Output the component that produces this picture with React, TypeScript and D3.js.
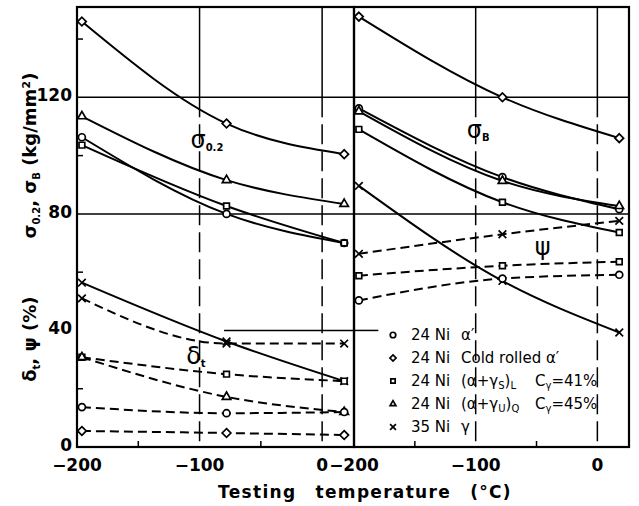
import React, { useEffect, useRef } from "react";
import * as d3 from "d3";

// testing temperatures (°C): liquid N2, dry ice, room temp
const temps = [-196, -78, 18];
const xTicks = [-200, -100, 0];
const xMinor = [-150, -50];
const yTicks = [0, 40, 80, 120];
const yMinor = [20, 60, 100, 140];

// left panel: 0.2% proof stress (kg/mm2, solid)
const proofAlpha = [106.3, 80, 70];
const proofCold = [146, 111, 100.5];
const proofSL = [103.6, 82.7, 70];
const proofUQ = [113.5, 91.6, 83.4];
const proofGamma = [56.4, 36.2, 22.6];

// left panel: elongation delta_t (%, dashed)
const elongAlpha = [13.7, 11.6, 12];
const elongCold = [5.5, 4.8, 4.1];
const elongSL = [30.8, 25, 22.6];
const elongUQ = [30.8, 17.2, 12];
const elongGamma = [51, 35.5, 35.5];

// right panel: tensile strength sigma_B (kg/mm2, solid)
const tensAlpha = [116.2, 92.6, 81.6];
const tensCold = [147.7, 120, 106];
const tensSL = [109, 84, 73.6];
const tensUQ = [115.2, 91.3, 82.7];
const tensGamma = [89.6, 57, 39.3];

// right panel: reduction of area psi (%, dashed)
const raAlpha = [50.3, 57.8, 59.1];
const raSL = [58.8, 62.2, 63.6];
const raGamma = [66.3, 73, 77.6];

const legendLabels = ["α′", "Cold rolled α′", "SL", "UQ", "γ"];

type Mark = "circle" | "diamond" | "square" | "triangle" | "times";

const leftSeries: [number[], Mark, boolean][] = [
  [proofCold, "diamond", false],
  [proofUQ, "triangle", false],
  [proofAlpha, "circle", false],
  [proofSL, "square", false],
  [proofGamma, "times", false],
  [elongGamma, "times", true],
  [elongSL, "square", true],
  [elongUQ, "triangle", true],
  [elongAlpha, "circle", true],
  [elongCold, "diamond", true],
];

const rightSeries: [number[], Mark, boolean][] = [
  [tensCold, "diamond", false],
  [tensAlpha, "circle", false],
  [tensUQ, "triangle", false],
  [tensSL, "square", false],
  [tensGamma, "times", false],
  [raGamma, "times", true],
  [raSL, "square", true],
  [raAlpha, "circle", true],
];

const symbolOf: Record<Mark, [d3.SymbolType, number]> = {
  circle: [d3.symbolCircle, 38],
  diamond: [d3.symbolDiamond2, 48],
  square: [d3.symbolSquare2, 42],
  triangle: [d3.symbolTriangle2, 52],
  times: [d3.symbolTimes, 40],
};

const FONT = "DejaVu Sans, sans-serif";

function App() {
  const ref = useRef<SVGSVGElement>(null);

  useEffect(() => {
    const svg = d3.select(ref.current);
    svg.selectAll("*").remove();

    const y = d3.scaleLinear().domain([0, 151]).range([447, 7]);
    const panels = [
      { x: d3.scaleLinear().domain([-200, 26]).range([77, 354]), series: leftSeries, g40: [-80, 26] },
      { x: d3.scaleLinear().domain([-200, 26]).range([354, 629]), series: rightSeries, g40: [-200, -180] },
    ];

    panels.forEach((p, pi) => {
      const g = svg.append("g");
      const [x0, x1] = p.x.range();

      // grid
      g.selectAll(".hg")
        .data([120, 80])
        .join("line")
        .attr("x1", x0).attr("x2", x1)
        .attr("y1", (v) => y(v)).attr("y2", (v) => y(v))
        .attr("stroke", "#000").attr("stroke-width", 1.5);
      g.append("line")
        .attr("x1", p.x(p.g40[0])).attr("x2", p.x(p.g40[1]))
        .attr("y1", y(40)).attr("y2", y(40))
        .attr("stroke", "#000").attr("stroke-width", 1.5);
      // vertical grid: solid above 120, long dashes below
      g.selectAll(".vg")
        .data([-100, 0])
        .join("line")
        .attr("x1", (v) => p.x(v)).attr("x2", (v) => p.x(v))
        .attr("y1", y(151)).attr("y2", y(120))
        .attr("stroke", "#000").attr("stroke-width", 1.5);
      g.selectAll(".vd")
        .data([-100, 0])
        .join("line")
        .attr("x1", (v) => p.x(v)).attr("x2", (v) => p.x(v))
        .attr("y1", y(120)).attr("y2", y(0))
        .attr("stroke", "#000").attr("stroke-width", 1.5)
        .attr("stroke-dasharray", "20,7");

      // minor ticks
      g.selectAll(".mt")
        .data(xMinor)
        .join("line")
        .attr("x1", (v) => p.x(v)).attr("x2", (v) => p.x(v))
        .attr("y1", y(0)).attr("y2", y(0) - 6)
        .attr("stroke", "#000").attr("stroke-width", 1.5);
      if (pi === 0) {
        g.selectAll(".ym")
          .data(yMinor)
          .join("line")
          .attr("x1", x0).attr("x2", x0 + 6)
          .attr("y1", (v) => y(v)).attr("y2", (v) => y(v))
          .attr("stroke", "#000").attr("stroke-width", 1.5);
      }

      const line = d3
        .line<number>()
        .x((v, i) => p.x(temps[i]))
        .y((v) => y(v))
        .curve(d3.curveMonotoneX);

      p.series.forEach(([vals, mark, dashed]) => {
        g.append("path")
          .attr("d", line(vals))
          .attr("fill", "none")
          .attr("stroke", "#000")
          .attr("stroke-width", 2)
          .attr("stroke-dasharray", dashed ? "9,5" : null);
      });
      p.series.forEach(([vals, mark]) => {
        const [type, size] = symbolOf[mark];
        g.selectAll(null)
          .data(vals)
          .join("path")
          .attr("transform", (v, i) => `translate(${p.x(temps[i])},${y(v)})`)
          .attr("d", d3.symbol(type, size)())
          .attr("fill", "#fff")
          .attr("stroke", "#000")
          .attr("stroke-width", 1.7);
      });

      // frame
      g.append("rect")
        .attr("x", x0).attr("y", y(151))
        .attr("width", x1 - x0).attr("height", y(0) - y(151))
        .attr("fill", "none").attr("stroke", "#000").attr("stroke-width", 2.2);

      // x tick labels (left panel's 0 is drawn with the border label)
      g.selectAll(".xl")
        .data(xTicks.filter((v) => !(pi === 0 && v === 0)))
        .join("text")
        .attr("x", (v) => p.x(v))
        .attr("y", 471)
        .attr("text-anchor", "middle")
        .attr("font-size", 17)
        .attr("font-weight", "bold")
        .attr("font-family", FONT)
        .text((v) => String(v).replace("-", "−"));
    });

    const xl = panels[0].x;
    const xr = panels[1].x;
    svg.append("text")
      .attr("x", xl(0)).attr("y", 471)
      .attr("text-anchor", "middle")
      .attr("font-size", 17).attr("font-weight", "bold").attr("font-family", FONT)
      .text("0");

    // y tick labels
    svg.selectAll(".yl")
      .data(yTicks)
      .join("text")
      .attr("x", 72)
      .attr("y", (v) => y(v) + 4)
      .attr("text-anchor", "end")
      .attr("font-size", 17)
      .attr("font-weight", "bold")
      .attr("font-family", FONT)
      .text((v) => v);

    // axis titles
    const t1 = svg.append("text")
      .attr("transform", `translate(36,${y(100)}) rotate(-90)`)
      .attr("text-anchor", "middle")
      .attr("font-size", 18).attr("font-weight", "bold").attr("font-family", FONT);
    t1.append("tspan").text("σ");
    t1.append("tspan").attr("font-size", 10).attr("dy", 4).text("0.2");
    t1.append("tspan").attr("dy", -4).text(", σ");
    t1.append("tspan").attr("font-size", 10).attr("dy", 4).text("B");
    t1.append("tspan").attr("dy", -4).text("  (kg/mm²)");

    const t2 = svg.append("text")
      .attr("transform", `translate(36,${y(37)}) rotate(-90)`)
      .attr("text-anchor", "middle")
      .attr("font-size", 18).attr("font-weight", "bold").attr("font-family", FONT);
    t2.append("tspan").text("δ");
    t2.append("tspan").attr("font-size", 10).attr("dy", 4).text("t");
    t2.append("tspan").attr("dy", -4).text(", ψ  (%)");

    svg.append("text")
      .attr("x", 365).attr("y", 498)
      .attr("text-anchor", "middle")
      .attr("font-size", 17).attr("font-weight", "bold").attr("font-family", FONT)
      .attr("letter-spacing", 1.3).attr("word-spacing", 12)
      .text("Testing  temperature  (°C)");

    // curve labels
    const lab = (x: number, yy: number, main: string, sub: string) => {
      const t = svg.append("text").attr("x", x).attr("y", yy)
        .attr("font-size", 24).attr("font-family", FONT).attr("text-anchor", "middle");
      t.append("tspan").text(main);
      if (sub) t.append("tspan").attr("font-size", 10).attr("font-weight", "bold").attr("dy", 3).text(sub);
    };
    lab(xl(-94), y(102.5), "σ", "0.2");
    lab(xl(-103), y(28.5), "δ", "t");
    lab(xr(-98), y(106), "σ", "B");
    lab(xr(-45), y(66), "ψ", "");

    // legend
    const lg = svg.append("g").attr("font-family", FONT).attr("font-size", 15);
    const legendMarks: Mark[] = ["circle", "diamond", "square", "triangle", "times"];
    legendMarks.forEach((m, i) => {
      const cy = 335 + i * 23;
      const [type] = symbolOf[m];
      lg.append("path")
        .attr("transform", `translate(393,${cy})`)
        .attr("d", d3.symbol(type, 24)())
        .attr("fill", "#fff").attr("stroke", "#000").attr("stroke-width", 1.7);
      lg.append("text").attr("x", 411).attr("y", cy + 5).text(i === 4 ? "35 Ni" : "24 Ni");
      const t = lg.append("text").attr("x", 461).attr("y", cy + 5);
      const lbl = legendLabels[i];
      if (lbl === "SL" || lbl === "UQ") {
        t.append("tspan").text("(α+γ");
        t.append("tspan").attr("font-size", 10).attr("dy", 3).text(lbl[0]);
        t.append("tspan").attr("dy", -3).text(")");
        t.append("tspan").attr("font-size", 10).attr("dy", 3).text(lbl[1]);
        t.append("tspan").attr("dy", -3).attr("x", 535).text("C");
        t.append("tspan").attr("font-size", 10).attr("dy", 3).text("γ");
        t.append("tspan").attr("dy", -3).text(lbl === "SL" ? "=41%" : "=45%");
      } else {
        t.text(lbl);
      }
    });
  }, []);

  return (
    <div style={{ position: "absolute", left: 0, top: 0 }}>
      <svg ref={ref} width={639} height={506} style={{ display: "block", background: "#fff" }} />
    </div>
  );
}

export default App;
